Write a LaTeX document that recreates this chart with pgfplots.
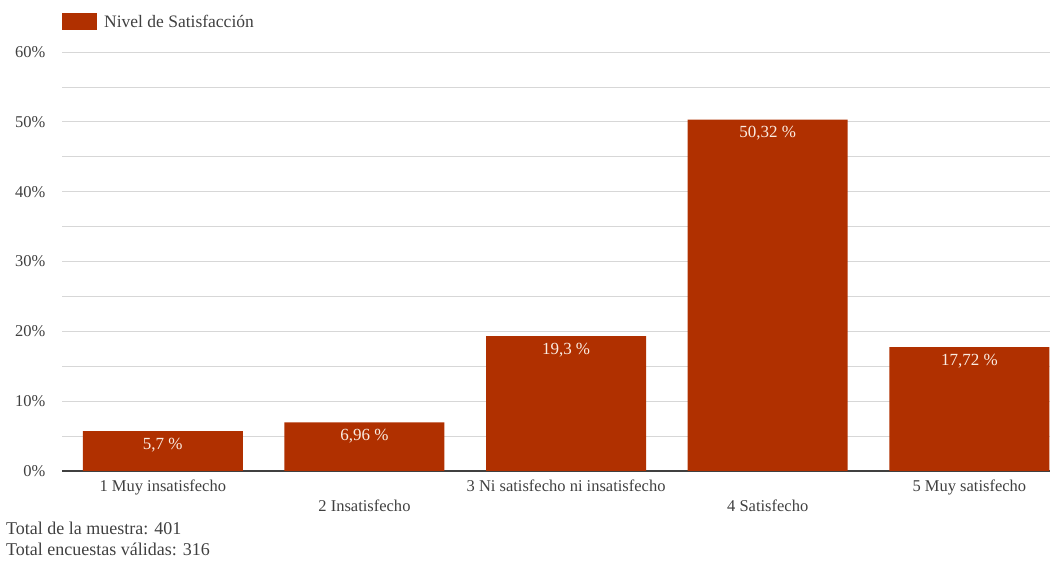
\documentclass[border=0pt]{standalone}
\usepackage{pgfplots}
\pgfplotsset{compat=1.18}
\usepackage{fontspec}
\setmainfont{Liberation Serif}
\definecolor{barc}{RGB}{176,48,0}
\definecolor{txt}{RGB}{64,64,64}
\definecolor{lbl}{RGB}{250,236,226}
\definecolor{gridc}{RGB}{215,215,215}
\begin{document}
\begin{tikzpicture}[x=1bp,y=1bp]
\useasboundingbox (0,0) rectangle (1058,565);
\begin{axis}[
  at={(62bp,94bp)}, anchor=south west,
  scale only axis, width=988bp, height=419bp,
  xmin=-0.5, xmax=4.4, ymin=0, ymax=60,
  ybar, bar width=160bp,
  axis x line*=bottom, axis y line*=left,
  y axis line style={draw=none},
  x axis line style={draw=txt, line width=1.2bp},
  tick style={draw=none},
  ytick={0,10,...,60}, minor ytick={5,15,...,55},
  ymajorgrids, yminorgrids,
  major grid style={draw=gridc, line width=0.8bp},
  minor grid style={draw=gridc, line width=0.8bp},
  /pgf/number format/assume math mode=true,
  yticklabel={\pgfmathprintnumber{\tick}\%},
  yticklabel style={font=\fontsize{16.5bp}{20bp}\selectfont, text=txt, xshift=-13bp},
  xtick={0,1,2,3,4},
  xticklabels={{\strut 1 Muy insatisfecho},{\strut\\\strut 2 Insatisfecho},{\strut 3 Ni satisfecho ni insatisfecho},{\strut\\\strut 4 Satisfecho},{\strut 5 Muy satisfecho}},
  xticklabel style={font=\fontsize{16.5bp}{20bp}\selectfont, text=txt, align=center, anchor=north, yshift=1.5bp},
  nodes near coords,
  point meta=explicit symbolic,
  every node near coord/.append style={anchor=north, text=lbl, font=\fontsize{17bp}{20bp}\selectfont, yshift=-3.5bp},
  legend style={at={([yshift=30bp]rel axis cs:0,1)}, anchor=west, draw=none, fill=none, inner sep=0pt, font=\fontsize{17.5bp}{20bp}\selectfont, text=txt},
  legend image code/.code={\fill[barc] (0bp,-8.5bp) rectangle (35bp,8.5bp); \path (40bp,0bp);},
]
\addplot[fill=barc, draw=none] coordinates {
  (0,5.7) [5,7 \%]
  (1,6.96) [6,96 \%]
  (2,19.3) [19,3 \%]
  (3,50.32) [50,32 \%]
  (4,17.72) [17,72 \%]
};
\addlegendentry{Nivel de Satisfacción}
\end{axis}
\node[anchor=west, text=txt, font=\fontsize{18bp}{20bp}\selectfont, inner sep=0pt] at (6,37) {Total de la muestra: 401};
\node[anchor=west, text=txt, font=\fontsize{18bp}{20bp}\selectfont, inner sep=0pt] at (6,16) {Total encuestas válidas: 316};
\end{tikzpicture}
\end{document}
